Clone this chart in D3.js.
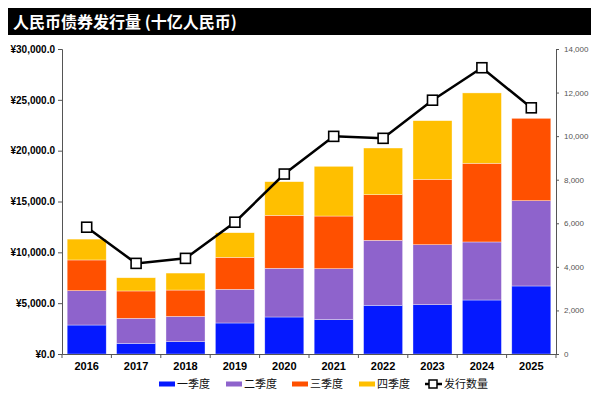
<!DOCTYPE html>
<html>
<head>
<meta charset="utf-8">
<script src="https://cdn.jsdelivr.net/npm/d3@7"></script>
<style>
  body { margin: 0; background: #fff; }
  svg { display: block; }
</style>
</head>
<body>
<svg id="chart" width="602" height="393"></svg>
<script>
// data (billion RMB, issue count)
const years = ["2016", "2017", "2018", "2019", "2020", "2021", "2022", "2023", "2024", "2025"];
const q1 = [2850, 1050, 1210, 3050, 3640, 3380, 4790, 4850, 5310, 6690];
const q2 = [3380, 2460, 2490, 3310, 4790, 5010, 6390, 5900, 5710, 8390];
const q3 = [3020, 2690, 2590, 3150, 5210, 5180, 4490, 6430, 7740, 8100];
const q4 = [2050, 1300, 1670, 2420, 3310, 4890, 4590, 5770, 6920, 0];
const counts = [5820, 4160, 4390, 6050, 8260, 9990, 9900, 11650, 13140, 11300];

const seriesNames = ["一季度", "二季度", "三季度", "四季度"];
const colors = ["#0519FF", "#8E63CC", "#FF5000", "#FFBF00"];
const leftTicks = [0, 5000, 10000, 15000, 20000, 25000, 30000];
const rightTicks = [0, 2000, 4000, 6000, 8000, 10000, 12000, 14000];

const svg = d3.select("#chart");
const mLeft = 62, mRight = 556, mTop = 49, mBottom = 354;

// title bar
svg.append("rect")
  .attr("x", 8).attr("y", 8).attr("width", 583).attr("height", 27)
  .attr("fill", "#000");
svg.append("text")
  .attr("x", 13).attr("y", 27.5)
  .style("font", "bold 16px 'Noto Sans CJK SC', sans-serif")
  .style("fill", "#fff")
  .text("人民币债券发行量 (十亿人民币)");

const x = d3.scaleBand().domain(years).range([mLeft, mRight]).paddingInner(0.21).paddingOuter(0.105);
const y = d3.scaleLinear().domain([0, 30000]).range([mBottom, mTop]);
const y2 = d3.scaleLinear().domain([0, 14000]).range([mBottom, mTop]);

const rows = years.map((yr, i) => ({ year: yr, q1: q1[i], q2: q2[i], q3: q3[i], q4: q4[i] }));
const stack = d3.stack().keys(["q1", "q2", "q3", "q4"])(rows);

// bars
stack.forEach((layer, k) => {
  svg.append("g").selectAll("rect")
    .data(layer.filter(d => d[1] > d[0]))
    .join("rect")
    .attr("x", d => x(d.data.year))
    .attr("width", x.bandwidth())
    .attr("y", d => y(d[1]))
    .attr("height", d => y(d[0]) - y(d[1]))
    .attr("fill", colors[k])
    .attr("stroke", "#fff")
    .attr("stroke-opacity", 0.6)
    .attr("stroke-width", 0.6);
});

// left axis
const ax = svg.append("g").attr("transform", `translate(${mLeft},0)`)
  .call(d3.axisLeft(y).tickValues(leftTicks).tickSize(4).tickPadding(3)
    .tickFormat(d => "¥" + d3.format(",.1f")(d)));
ax.selectAll("text").style("font", "bold 10px Arial, 'Liberation Sans', sans-serif").attr("fill", "#000");
ax.select(".domain").attr("stroke", "#555");
ax.selectAll(".tick line").attr("stroke", "#555");

// right axis
const ax2 = svg.append("g").attr("transform", `translate(${mRight},0)`)
  .call(d3.axisRight(y2).tickValues(rightTicks).tickSize(3).tickPadding(5)
    .tickFormat(d3.format(",")));
ax2.selectAll("text").style("font", "8px Arial, 'Liberation Sans', sans-serif").attr("fill", "#555");
ax2.select(".domain").attr("stroke", "#555");
ax2.selectAll(".tick line").attr("stroke", "#555");

// bottom axis with ticks between categories
const bx = svg.append("g").attr("transform", `translate(0,${mBottom})`)
  .call(d3.axisBottom(x).tickSize(0).tickPadding(8));
bx.selectAll("text").style("font", "bold 11px Arial, 'Liberation Sans', sans-serif").attr("fill", "#000");
bx.select(".domain").attr("stroke", "#555");
const step = x.step();
bx.selectAll(".sep")
  .data(d3.range(years.length + 1))
  .join("line")
  .attr("x1", i => mLeft + i * step).attr("x2", i => mLeft + i * step)
  .attr("y1", 0).attr("y2", 4)
  .attr("stroke", "#555");

// line series
const cx = d => x(d) + x.bandwidth() / 2;
svg.append("path")
  .datum(years.map((yr, i) => [cx(yr), y2(counts[i])]))
  .attr("d", d3.line())
  .attr("fill", "none")
  .attr("stroke", "#000")
  .attr("stroke-width", 2.5);
svg.append("g").selectAll("rect")
  .data(years.map((yr, i) => [cx(yr), y2(counts[i])]))
  .join("rect")
  .attr("x", d => d[0] - 5).attr("y", d => d[1] - 5)
  .attr("width", 10).attr("height", 10)
  .attr("fill", "#fff").attr("stroke", "#000").attr("stroke-width", 1.6);

// legend
const legendX = [159, 226, 292, 359];
const ly = 384;
seriesNames.forEach((name, i) => {
  svg.append("rect")
    .attr("x", legendX[i]).attr("y", ly - 2.5).attr("width", 16).attr("height", 5)
    .attr("fill", colors[i]);
  svg.append("text")
    .attr("x", legendX[i] + 18).attr("y", ly + 4)
    .style("font", "11px 'Noto Sans CJK SC', sans-serif")
    .attr("fill", "#111")
    .text(name);
});
svg.append("line")
  .attr("x1", 425).attr("x2", 442).attr("y1", ly).attr("y2", ly)
  .attr("stroke", "#000").attr("stroke-width", 2.5);
svg.append("rect")
  .attr("x", 429).attr("y", ly - 4).attr("width", 8).attr("height", 8)
  .attr("fill", "#fff").attr("stroke", "#000").attr("stroke-width", 1.5);
svg.append("text")
  .attr("x", 444).attr("y", ly + 4)
  .style("font", "11px 'Noto Sans CJK SC', sans-serif")
  .attr("fill", "#111")
  .text("发行数量");
</script>
</body>
</html>
